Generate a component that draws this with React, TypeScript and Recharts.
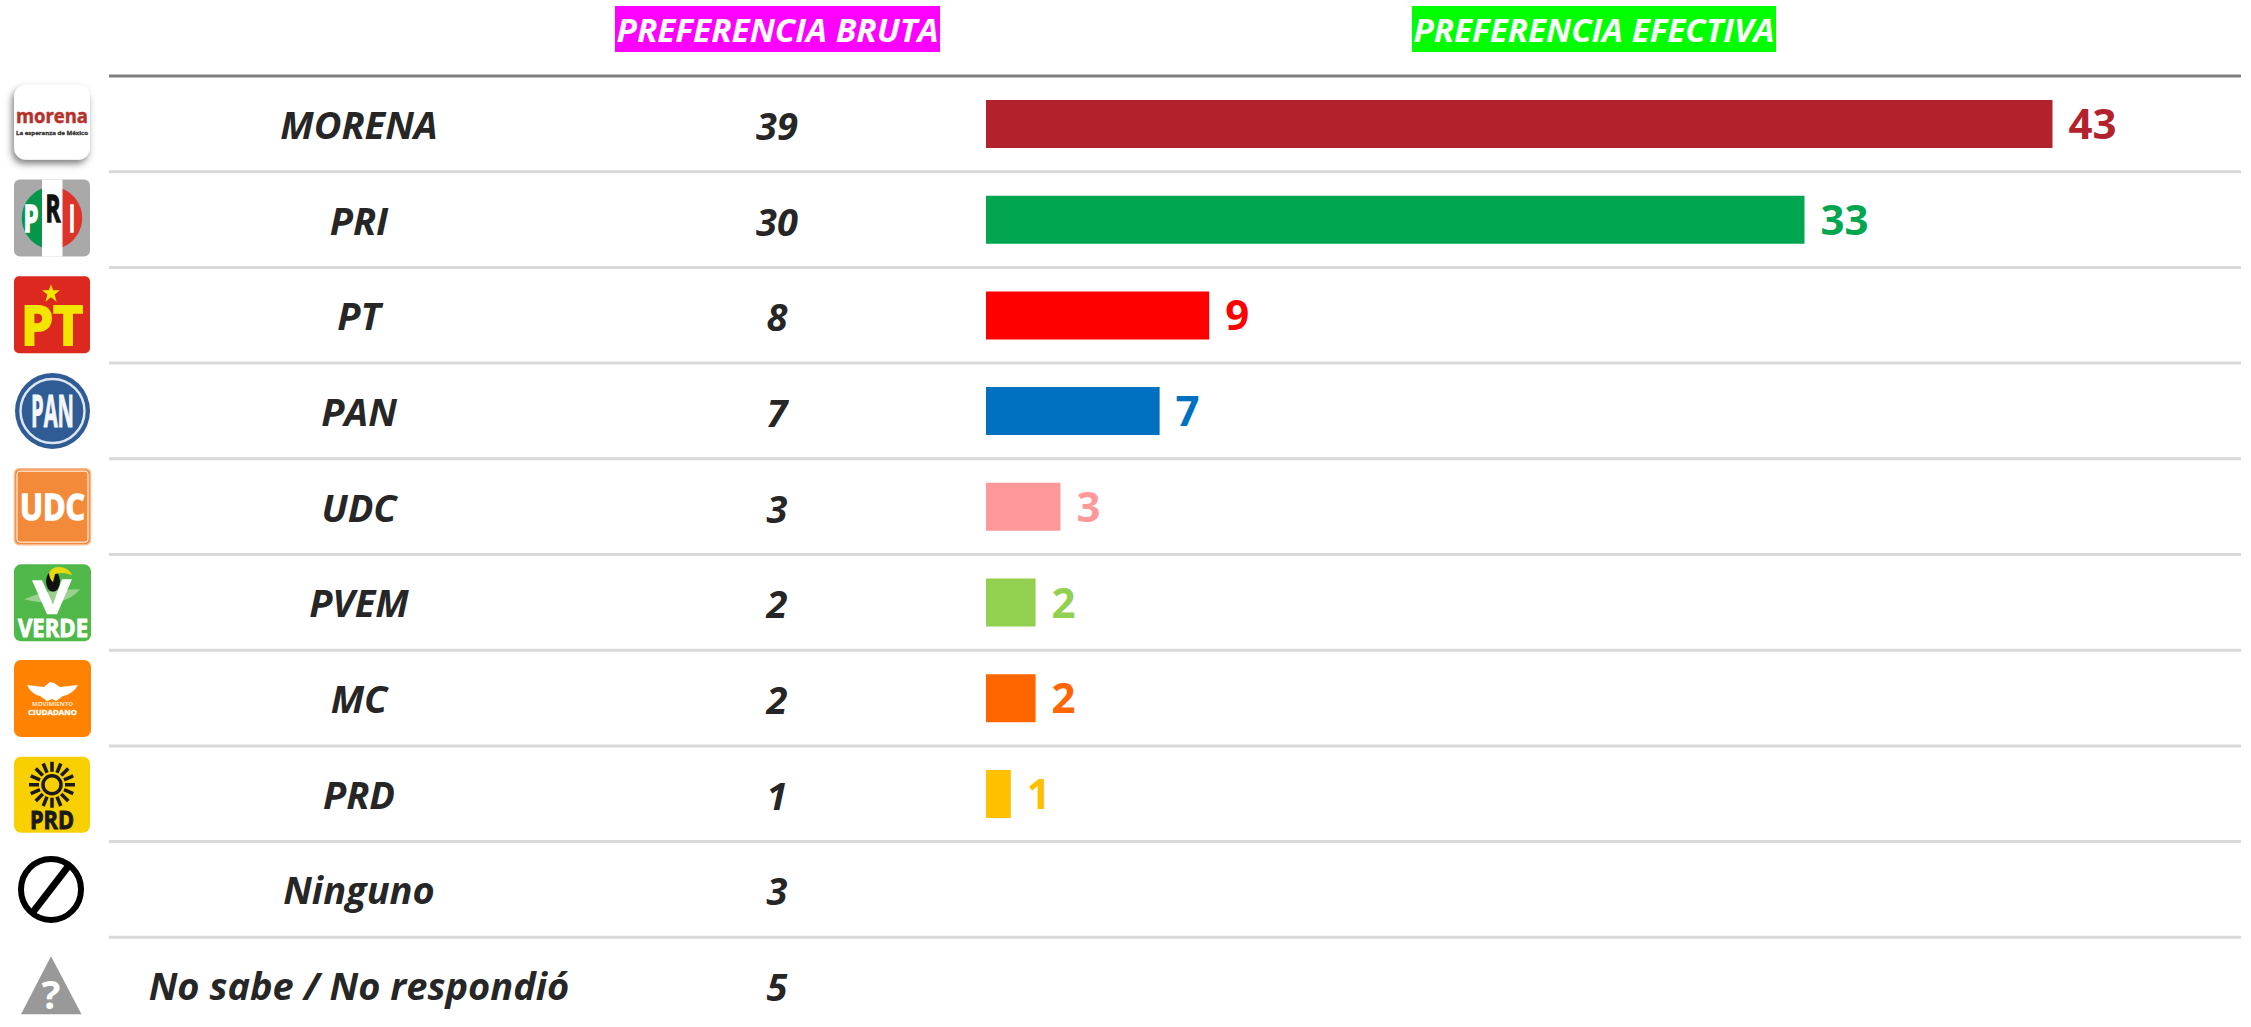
import React from "react";
import { BarChart, Bar, Cell, XAxis, YAxis, LabelList } from "recharts";

const parties = ["MORENA", "PRI", "PT", "PAN", "UDC", "PVEM", "MC", "PRD", "Ninguno", "No sabe / No respondió"];
const brutaValues = [39, 30, 8, 7, 3, 2, 2, 1, 3, 5];
const efectivaValues = [43, 33, 9, 7, 3, 2, 2, 1, null, null];
const barColors = ["#B1222C", "#02A650", "#FF0000", "#0070C0", "#FF9999", "#92D050", "#FF6600", "#FFC000", "#999999", "#999999"];
const headers = ["PREFERENCIA BRUTA", "PREFERENCIA EFECTIVA"];

const rows = parties.map((name, i) => ({ name, efectiva: efectivaValues[i] }));

const FONT = "'Open Sans', sans-serif";
const W = 2251;
const PLOT_LEFT = 986;
const PLOT_RIGHT = 2241;
const PLOT_TOP = 76;
const ROW_H = 95.7;
const RULE_LEFT = 109;
const TEXT = "#262626";

const Word = ({ x, y, w, size, fill, children, weight = 700, thick = 0 }: any) => (
  <text x={x} y={y} textAnchor="middle" fontFamily={FONT} fontWeight={weight} fontSize={size} fill={fill}
    stroke={thick ? fill : "none"} strokeWidth={thick}
    textLength={w} lengthAdjust="spacingAndGlyphs">{children}</text>
);

const Morena = () => (
  <g>
    <defs>
      <filter id="mshadow" x="-30%" y="-30%" width="160%" height="160%">
        <feDropShadow dx="-2" dy="4" stdDeviation="3.5" floodColor="#555" floodOpacity="0.75" />
      </filter>
    </defs>
    <rect x={14} y={-39} width={76} height={75} rx={12} fill="#fff" filter="url(#mshadow)" />
    <Word x={52} y={-1} w={72} size={20} fill="#B5312B" thick={0.5}>morena</Word>
    <Word x={52} y={11} w={72} size={5.5} fill="#333" thick={0.3}>La esperanza de México</Word>
  </g>
);

const Pri = () => (
  <g>
    <rect x={14} y={-40} width={76} height={77} rx={6} fill="#A9A9A9" />
    <path d="M42,-31 A33,32 0 0 0 42,28 Z" fill="#05964A" />
    <path d="M62,-31 A33,32 0 0 1 62,28 Z" fill="#DD3329" />
    <rect x={42} y={-40} width={20.5} height={77} fill="#fff" />
    <Word x={31} y={12} w={15} size={38} fill="#fff" thick={1.5}>P</Word>
    <Word x={53} y={2} w={15} size={38} fill="#111" thick={1.5}>R</Word>
    <Word x={72} y={12} w={6} size={38} fill="#fff" thick={1.5}>I</Word>
  </g>
);

const Pt = () => (
  <g>
    <rect x={14} y={-39} width={76} height={77} rx={5} fill="#DC281E" />
    <path d="M51,-31 L53.2,-25 L60,-25 L54.6,-20.8 L56.6,-13.5 L51,-18 L45.4,-13.5 L47.4,-20.8 L42,-25 L48.8,-25 Z" fill="#F2E500" />
    <Word x={52} y={30} w={62} size={53} fill="#F2E500" thick={2}>PT</Word>
  </g>
);

const Pan = () => (
  <g>
    <ellipse cx={52.5} cy={0} rx={37.5} ry={38} fill="#2F5C94" />
    <ellipse cx={52.5} cy={0} rx={32} ry={32} fill="none" stroke="#DDE7F2" strokeWidth={2.5} />
    <Word x={52.5} y={16} w={43} size={45} fill="#F4F7FB" thick={1}>PAN</Word>
  </g>
);

const Udc = () => (
  <g>
    <rect x={14.5} y={-38} width={76} height={76} rx={5} fill="#F28A3A" stroke="#F9B98A" strokeWidth={1.5} />
    <rect x={17} y={-35.5} width={71} height={71} rx={3} fill="none" stroke="#fff" strokeWidth={1} />
    <Word x={52.5} y={13} w={65} size={35} fill="#fff" thick={1.5}>UDC</Word>
  </g>
);

const Pvem = () => (
  <g>
    <rect x={14} y={-38} width={77} height={77} rx={7} fill="#4FB848" />
    <path d="M24,-3 Q48,-14 80,-13 Q64,7 24,-3 Z" fill="#9AD18F" />
    <ellipse cx={53} cy={-21} rx={7} ry={10.5} fill="#111" />
    <path d="M49,-30 Q54,-37 62,-35 Q70,-33 72,-27 Q62,-31 55,-28 L53,-20 Q49,-24 49,-30 Z" fill="#E5D80F" />
    <path d="M32,-22 L42,-22 L53,2 L62,-23 L72,-23 L57,12 L47,12 Z" fill="#fff" />
    <Word x={53} y={35} w={70} size={25} fill="#fff" thick={1}>VERDE</Word>
  </g>
);

const Mc = () => (
  <g>
    <rect x={14} y={-38} width={77} height={77} rx={7} fill="#FF8300" />
    <path d="M27,-13 L44,-11 L50,-16 L54,-15 L60,-11 L78,-13 Q73,-4 63,-2 L56,3 L52,1 L47,3 L40,-2 Q31,-4 27,-13 Z" fill="#fff" />
    <Word x={52.5} y={8} w={41} size={6} fill="#FFE9D0">MOVIMIENTO</Word>
    <Word x={52.5} y={16.5} w={49} size={6.5} fill="#fff" thick={0.3}>CIUDADANO</Word>
  </g>
);

const Prd = () => {
  const rays = Array.from({ length: 16 }, (_, i) => i * 22.5);
  return (
    <g>
      <rect x={14} y={-37} width={76} height={76} rx={7} fill="#F8D000" />
      <g transform="translate(52,-9)">
        {rays.map((a) => (
          <line key={a} x1={0} y1={-13} x2={0} y2={-23} transform={`rotate(${a})`} stroke="#1a1a1a" strokeWidth={3.5} />
        ))}
        <circle r={9} fill="none" stroke="#1a1a1a" strokeWidth={3.5} />
      </g>
      <Word x={52} y={35} w={44} size={25} fill="#1a1a1a" thick={1}>PRD</Word>
    </g>
  );
};

const Ninguno = () => (
  <g>
    <ellipse cx={51} cy={0} rx={30} ry={30.5} fill="none" stroke="#000" strokeWidth={6} />
    <line x1={32} y1={24} x2={69} y2={-24} stroke="#000" strokeWidth={7} />
  </g>
);

const NoSabe = () => (
  <g>
    <path d="M51,-29 L81.5,29 L21,29 Z" fill="#999" />
    <Word x={51} y={24} w={19} size={40} fill="#fff">?</Word>
  </g>
);

const logos = [Morena, Pri, Pt, Pan, Udc, Pvem, Mc, Prd, Ninguno, NoSabe];

const RowTick = (props: any) => {
  const { y, payload, index } = props;
  const i = payload?.index ?? index;
  const Logo = logos[i];
  return (
    <g>
      {i === 0 && (
        <g>
          <rect x={615} y={6} width={325} height={46} fill="#FF00FF" />
          <rect x={1412} y={6} width={364} height={46} fill="#00FF00" />
          <Word x={777.5} y={42} w={322} size={33} fill="#fff"><tspan fontStyle="italic">{headers[0]}</tspan></Word>
          <Word x={1594} y={42} w={361} size={33} fill="#fff"><tspan fontStyle="italic">{headers[1]}</tspan></Word>
          <line x1={RULE_LEFT} x2={PLOT_RIGHT} y1={y - ROW_H / 2} y2={y - ROW_H / 2} stroke="#7F7F7F" strokeWidth={3} />
        </g>
      )}
      <g transform={`translate(0,${y})`}><Logo /></g>
      <text x={359} y={y + 15} textAnchor="middle" fontFamily={FONT} fontStyle="italic" fontWeight={700} fontSize={38} fill={TEXT}>{payload.value}</text>
      <text x={777} y={y + 16} textAnchor="middle" fontFamily={FONT} fontStyle="italic" fontWeight={700} fontSize={38} fill={TEXT}>{brutaValues[i]}</text>
      {i < parties.length - 1 && (
        <line x1={RULE_LEFT} x2={PLOT_RIGHT} y1={y + ROW_H / 2} y2={y + ROW_H / 2} stroke="#D9D9D9" strokeWidth={3} />
      )}
    </g>
  );
};

const ValueLabel = (props: any) => {
  const { x, y, width, height, value, index } = props;
  if (value == null) return null;
  return (
    <text x={x + width + 16} y={y + height / 2 + 15} fontFamily={FONT} fontWeight={700} fontSize={42} fill={barColors[index]}>{value}</text>
  );
};

export default function App() {
  return (
    <div style={{ position: "absolute", left: 0, top: 0, width: W, height: 1027, overflow: "hidden", background: "#fff" }}>
      <BarChart
        width={W}
        height={PLOT_TOP + ROW_H * parties.length}
        data={rows}
        layout="vertical"
        margin={{ top: PLOT_TOP, right: W - PLOT_RIGHT, bottom: 0, left: 0 }}
      >
        <XAxis type="number" domain={[0, 50.6]} hide />
        <YAxis
          type="category"
          dataKey="name"
          width={PLOT_LEFT}
          interval={0}
          axisLine={false}
          tickLine={false}
          tick={<RowTick />}
        />
        <Bar dataKey="efectiva" barSize={48} isAnimationActive={false}>
          {rows.map((r, i) => (
            <Cell key={r.name} fill={barColors[i]} />
          ))}
          <LabelList dataKey="efectiva" content={<ValueLabel />} />
        </Bar>
      </BarChart>
    </div>
  );
}
